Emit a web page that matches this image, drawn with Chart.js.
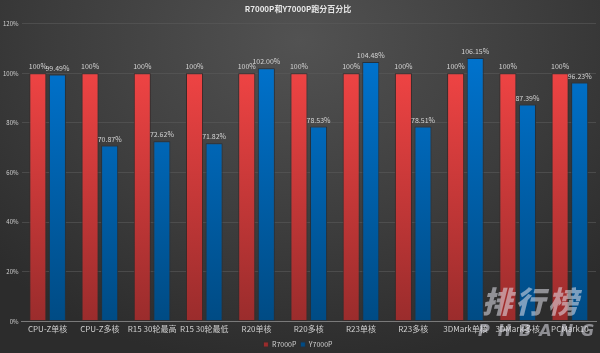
<!DOCTYPE html>
<html>
<head>
<meta charset="utf-8">
<script src="https://cdn.jsdelivr.net/npm/chart.js@4"></script>
<style>
  html, body { margin: 0; padding: 0; }
  body { width: 600px; height: 353px; overflow: hidden;
    background: radial-gradient(ellipse 420px 330px at 300px 40px, #525252 0%, #3c3c3c 60%, #2c2c2c 100%); }
  #wrap { position: relative; width: 600px; height: 353px; }
  #mark { position: absolute; left: 482px; top: 282px; color: rgba(225,225,235,0.55);
    font-family: "Noto Sans CJK SC", sans-serif; font-weight: 900; font-style: italic;
    font-size: 30px; letter-spacing: 3px; line-height: 36px; pointer-events: none; }
  #mark span { display: block; font-family: "DejaVu Sans", sans-serif; font-weight: bold; font-size: 16px;
    letter-spacing: 8px; line-height: 18px; margin-left: -4px; margin-top: 4px; }
</style>
</head>
<body>
<div id="wrap">
  <canvas id="chart" width="600" height="353"></canvas>
  <div id="mark">排行榜<span>PHBANG</span></div>
</div>
<script>
// 跑分百分比 — R7000P vs Y7000P
const categories = ['CPU-Z单核','CPU-Z多核','R15 30轮最高','R15 30轮最低','R20单核','R20多核','R23单核','R23多核','3DMark单核','3DMark多核','PCMark10'];
const r7000p = [100, 100, 100, 100, 100, 100, 100, 100, 100, 100, 100];
const y7000p = [99.49, 70.87, 72.62, 71.82, 102.00, 78.53, 104.48, 78.51, 106.15, 87.39, 96.23];
const yTicks = [0, 20, 40, 60, 80, 100, 120];

const FONT = '"Noto Sans CJK SC", "Noto Sans", sans-serif';

function barGrad(top, bottom){
  return (c) => {
    const area = c.chart.chartArea;
    if (!area) return top;
    const g = c.chart.ctx.createLinearGradient(0, area.top, 0, area.bottom);
    g.addColorStop(0, top);
    g.addColorStop(1, bottom);
    return g;
  };
}

// value labels above each bar
const valueLabels = {
  id: 'valueLabels',
  afterDatasetsDraw(chart){
    const ctx = chart.ctx;
    ctx.save();
    ctx.font = '7px ' + FONT;
    ctx.fillStyle = '#d4d4d4';
    ctx.textAlign = 'center';
    ctx.textBaseline = 'bottom';
    chart.data.datasets.forEach((ds, i) => {
      chart.getDatasetMeta(i).data.forEach((bar, j) => {
        const v = ds.data[j];
        const txt = v === 100 ? '100%' : v.toFixed(2) + '%';
        ctx.fillText(txt, bar.x, bar.y - 3);
      });
    });
    ctx.restore();
  }
};

const ctx = document.getElementById('chart').getContext('2d');
new Chart(ctx, {
  type: 'bar',
  data: {
    labels: categories,
    datasets: [
      { label: 'R7000P', data: r7000p, backgroundColor: barGrad('#ff4848', '#9a2c2c'),
        borderColor: '#3a2a2a', borderWidth: 1, borderSkipped: false },
      { label: 'Y7000P', data: y7000p, backgroundColor: barGrad('#0078d7', '#004b84'),
        borderColor: '#26313c', borderWidth: 1, borderSkipped: false }
    ]
  },
  options: {
    responsive: false,
    animation: false,
    devicePixelRatio: 1,
    layout: { padding: { left: 0, right: 4, top: 0, bottom: -5 } },
    datasets: { bar: { categoryPercentage: 0.75, barPercentage: 0.87 } },
    plugins: {
      title: { display: true, text: 'R7000P和Y7000P跑分百分比', color: '#e8e8e8',
        font: { family: FONT, size: 8, weight: 'bold' }, padding: { top: 4, bottom: 10 } },
      legend: { position: 'bottom', labels: { color: '#cfcfcf', boxWidth: 5, boxHeight: 5,
        padding: 4, font: { family: FONT, size: 7 } } },
      tooltip: { enabled: false }
    },
    scales: {
      x: {
        grid: { display: false, drawTicks: false },
        border: { color: '#7a7a7a', width: 1 },
        ticks: { color: '#d0d0d0', font: { family: FONT, size: 8 }, maxRotation: 0, autoSkip: false, padding: 3 }
      },
      y: {
        min: 0, max: 120,
        afterBuildTicks: (s) => { s.ticks = yTicks.map(v => ({ value: v })); },
        grid: { color: 'rgba(90,90,90,0.6)', drawTicks: false },
        border: { display: false },
        ticks: { color: '#cfcfcf', font: { family: FONT, size: 6 }, padding: 3,
          callback: (v) => v + '%' }
      }
    }
  },
  plugins: [valueLabels]
});
</script>
</body>
</html>
